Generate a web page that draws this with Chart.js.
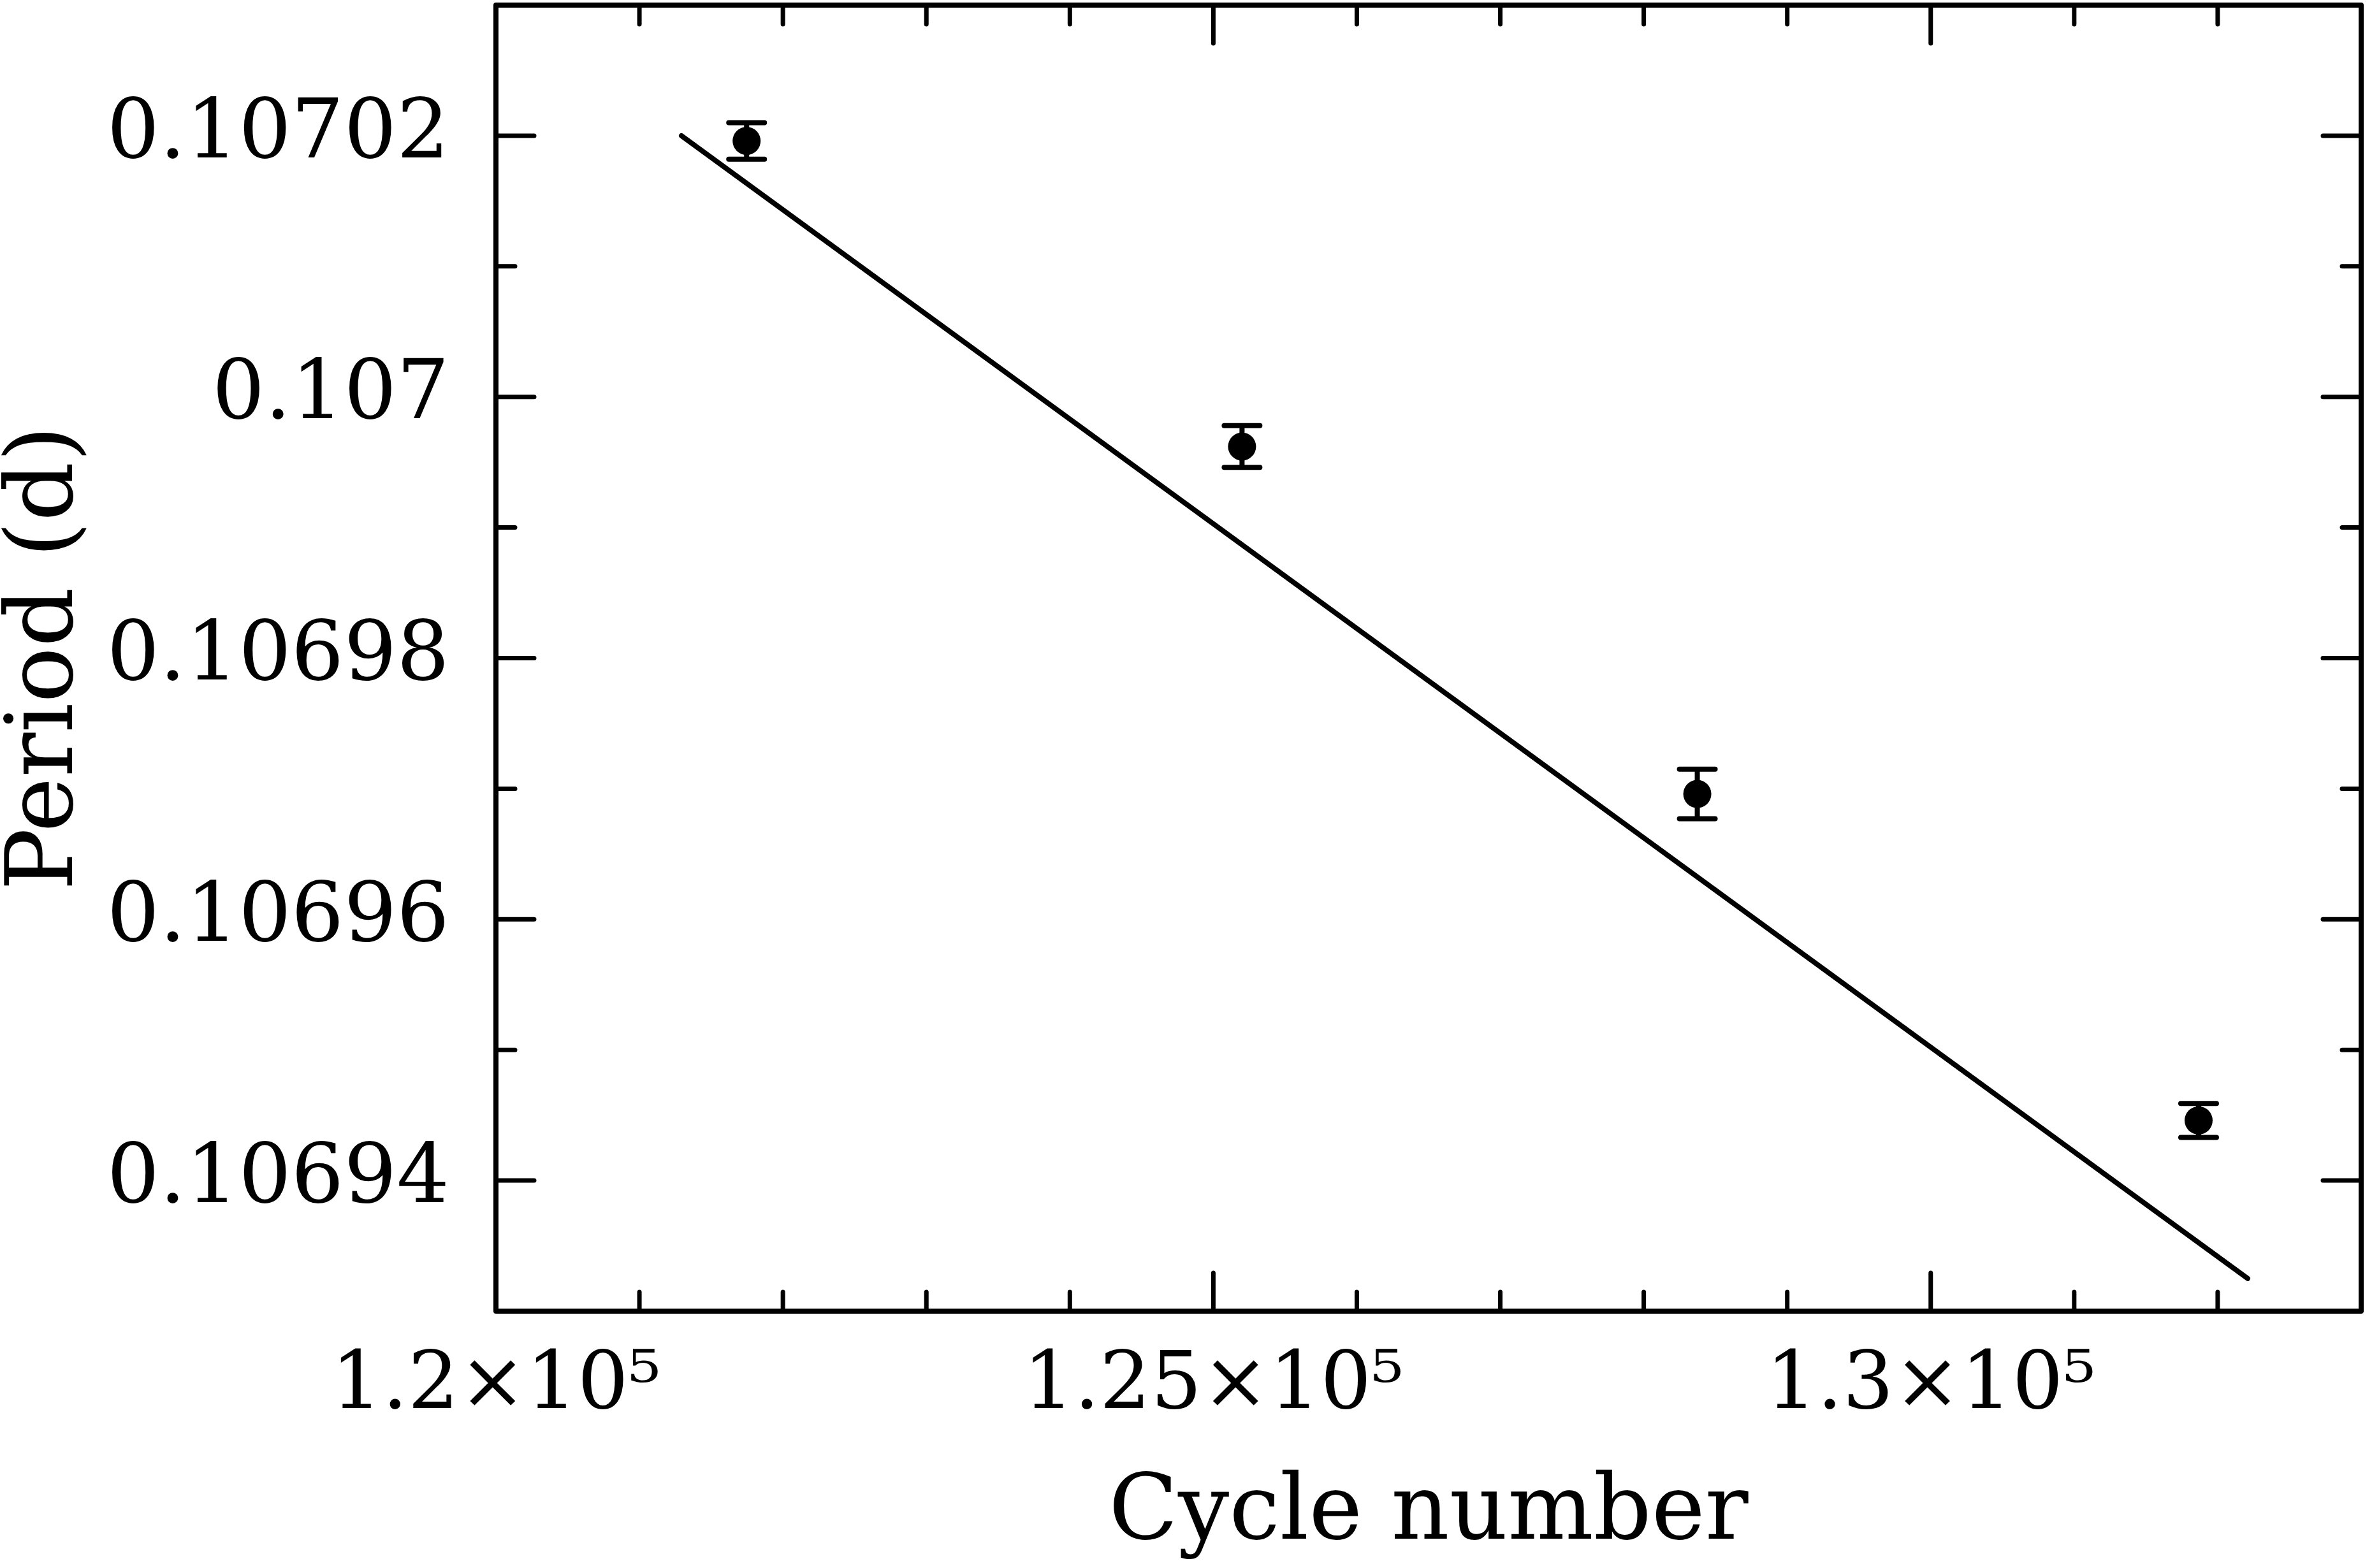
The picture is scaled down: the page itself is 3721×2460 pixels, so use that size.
<!DOCTYPE html>
<html><head><meta charset="utf-8">
<script src="https://cdn.jsdelivr.net/npm/chart.js@4/dist/chart.umd.min.js"></script>
<style>html,body{margin:0;padding:0;background:#fff}#wrap{width:3721px;height:2460px}</style>
</head><body><div id="wrap"><canvas id="c" width="3721" height="2460"></canvas></div>
<script>
// ---- data ----
const cycles = [121747, 125200, 128373, 131867];
const periods = [0.1070196, 0.1069962, 0.1069696, 0.1069446];
const periodErrors = [0.0000014, 0.0000016, 0.0000019, 0.0000013];
const fitCycles = [121293, 132209];
const fitPeriods = [0.10702, 0.1069325];
const xMajorTicks = [120000, 125000, 130000];
const xTickLabels = ['1.2×10⁵', '1.25×10⁵', '1.3×10⁵'];
const yMajorTicks = [0.10694, 0.10696, 0.10698, 0.107, 0.10702];
const yTickLabels = ['0.10694', '0.10696', '0.10698', '0.107', '0.10702'];
const xMinorStep = 1000;
const yMinorStep = 0.00001;

const FONT = 'DejaVu Serif';

const framePlugin = {
  id: 'frameTicks',
  beforeDatasetsDraw(chart) {
    const {ctx, chartArea: a, scales: {x, y}} = chart;
    ctx.save();
    ctx.strokeStyle = '#000';
    ctx.lineCap = 'round';
    ctx.lineWidth = 7;
    const nx = Math.round((x.max - x.min) / xMinorStep);
    for (let k = 1; k < nx; k++) {
      const v = x.min + k * xMinorStep;
      const major = xMajorTicks.some(m => Math.abs(m - v) < 1e-6);
      const len = major ? 60 : 30;
      const px = x.getPixelForValue(v);
      ctx.beginPath();
      ctx.moveTo(px, a.bottom); ctx.lineTo(px, a.bottom - len);
      ctx.moveTo(px, a.top); ctx.lineTo(px, a.top + len);
      ctx.stroke();
    }
    const ny = Math.round((y.max - y.min) / yMinorStep);
    for (let k = 1; k < ny; k++) {
      const v = y.min + k * yMinorStep;
      const major = yMajorTicks.some(m => Math.abs(m - v) < 1e-10);
      const len = major ? 60 : 30;
      const py = y.getPixelForValue(v);
      ctx.beginPath();
      ctx.moveTo(a.left, py); ctx.lineTo(a.left + len, py);
      ctx.moveTo(a.right, py); ctx.lineTo(a.right - len, py);
      ctx.stroke();
    }
    ctx.lineWidth = 8;
    ctx.lineJoin = 'round';
    ctx.strokeRect(a.left, a.top, a.right - a.left, a.bottom - a.top);
    ctx.restore();
  }
};

const errorBarPlugin = {
  id: 'errorBars',
  afterDatasetsDraw(chart) {
    const {ctx, scales: {x, y}} = chart;
    ctx.save();
    ctx.strokeStyle = '#000';
    ctx.lineCap = 'round';
    cycles.forEach((c, i) => {
      const px = x.getPixelForValue(c);
      const top = y.getPixelForValue(periods[i] + periodErrors[i]);
      const bot = y.getPixelForValue(periods[i] - periodErrors[i]);
      ctx.lineWidth = 8;
      ctx.beginPath();
      ctx.moveTo(px, top); ctx.lineTo(px, bot);
      ctx.moveTo(px - 28, top); ctx.lineTo(px + 28, top);
      ctx.moveTo(px - 28, bot); ctx.lineTo(px + 28, bot);
      ctx.stroke();
    });
    ctx.restore();
  }
};

new Chart(document.getElementById('c').getContext('2d'), {
  type: 'scatter',
  data: {
    datasets: [
      {
        type: 'line',
        label: 'Linear fit',
        data: fitCycles.map((c, i) => ({x: c, y: fitPeriods[i]})),
        borderColor: '#000',
        borderWidth: 8,
        borderCapStyle: 'round',
        pointRadius: 0,
        fill: false,
        tension: 0
      },
      {
        type: 'scatter',
        label: 'Period',
        data: cycles.map((c, i) => ({x: c, y: periods[i]})),
        pointRadius: 22,
        pointHoverRadius: 22,
        backgroundColor: '#000',
        borderColor: '#000',
        borderWidth: 0
      }
    ]
  },
  options: {
    responsive: false,
    animation: false,
    devicePixelRatio: 1,
    layout: {autoPadding: false, padding: {top: 8, right: 17, left: 0, bottom: 0}},
    plugins: {legend: {display: false}, tooltip: {enabled: false}},
    scales: {
      x: {
        type: 'linear',
        min: 120000,
        max: 133000,
        grid: {display: false, drawTicks: false},
        border: {display: false},
        afterBuildTicks: s => { s.ticks = xMajorTicks.map(v => ({value: v})); },
        afterFit: s => { s.height = 403; s.paddingLeft = 0; s.paddingRight = 0; },
        ticks: {
          autoSkip: false,
          maxRotation: 0,
          padding: 44,
          color: '#000',
          font: {family: FONT, size: 126},
          callback: (v, i) => xTickLabels[i]
        },
        title: {
          display: true,
          text: 'Cycle number',
          color: '#000',
          font: {family: FONT, size: 142, lineHeight: 1},
          padding: {top: 0, bottom: 12}
        }
      },
      y: {
        type: 'linear',
        min: 0.10693,
        max: 0.10703,
        grid: {display: false, drawTicks: false},
        border: {display: false},
        afterBuildTicks: s => { s.ticks = yMajorTicks.map(v => ({value: v})); },
        afterFit: s => { s.width = 778; s.paddingTop = 0; s.paddingBottom = 0; },
        ticks: {
          autoSkip: false,
          padding: 73,
          color: '#000',
          font: {family: FONT, size: 130},
          callback: (v, i) => yTickLabels[i]
        },
        title: {
          display: true,
          text: 'Period (d)',
          color: '#000',
          font: {family: FONT, size: 146, lineHeight: 1},
          padding: {top: 2, bottom: 0}
        }
      }
    }
  },
  plugins: [framePlugin, errorBarPlugin]
});
</script>
</body></html>
